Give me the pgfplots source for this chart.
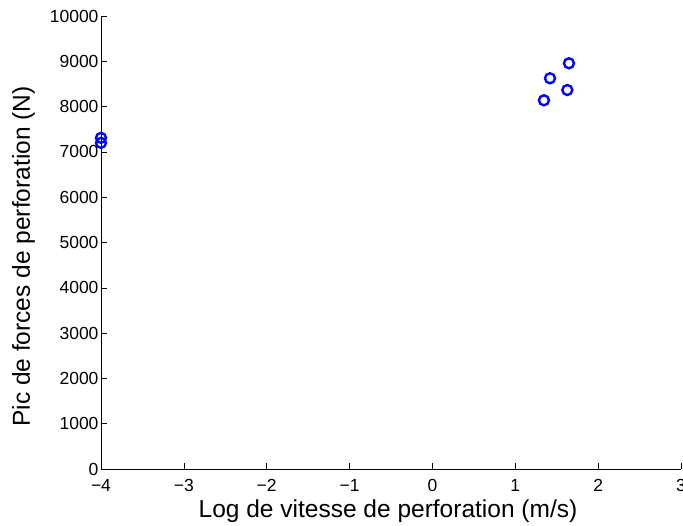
\documentclass[border=0pt]{standalone}
\usepackage{fontspec}
\setmainfont{Liberation Sans}
\usepackage{pgfplots}
\pgfplotsset{compat=1.18}
\begin{document}
\begin{tikzpicture}[x=1bp,y=1bp]
\path[use as bounding box] (-101bp,-57bp) rectangle (582bp,469bp);
\begin{axis}[
  at={(0,0)}, anchor=south west,
  scale only axis,
  width=580bp, height=453bp,
  xmin=-4, xmax=3, ymin=0, ymax=10000,
  axis x line*=bottom, axis y line*=left,
  axis line style={black, line width=0.6pt},
  xtick={-4,-3,...,3}, ytick={0,1000,...,10000},
  tick align=inside,
  major tick length=6bp,
  tick style={black, line width=0.6pt},
  scaled y ticks=false,
  /pgf/number format/assume math mode=true,
  /pgf/number format/1000 sep={},
  xticklabel={\ifdim\tick pt<0pt −\pgfmathparse{abs(\tick)}\pgfmathprintnumber[assume math mode=true]{\pgfmathresult}\else\pgfmathprintnumber[assume math mode=true]{\tick}\fi},
  ticklabel style={font=\fontsize{17.5bp}{19bp}\selectfont},
  yticklabel style={xshift=1bp},
  xticklabel style={yshift=-7bp},
  xlabel={Log de vitesse de perforation (m/s)},
  ylabel={Pic de forces de perforation (N)},
  label style={font=\fontsize{24.5bp}{27bp}\selectfont},
  xlabel style={yshift=-1bp, xshift=-3bp},
  ylabel style={yshift=8bp, xshift=-14bp},
  clip=false,
]
\addplot[only marks, mark=o, mark size=5bp, blue, line width=2.4bp] coordinates {
  (-4, 7310) (-4, 7200)
  (1.648, 8956) (1.419, 8625) (1.628, 8366) (1.346, 8139)
};
\end{axis}
\end{tikzpicture}
\end{document}
